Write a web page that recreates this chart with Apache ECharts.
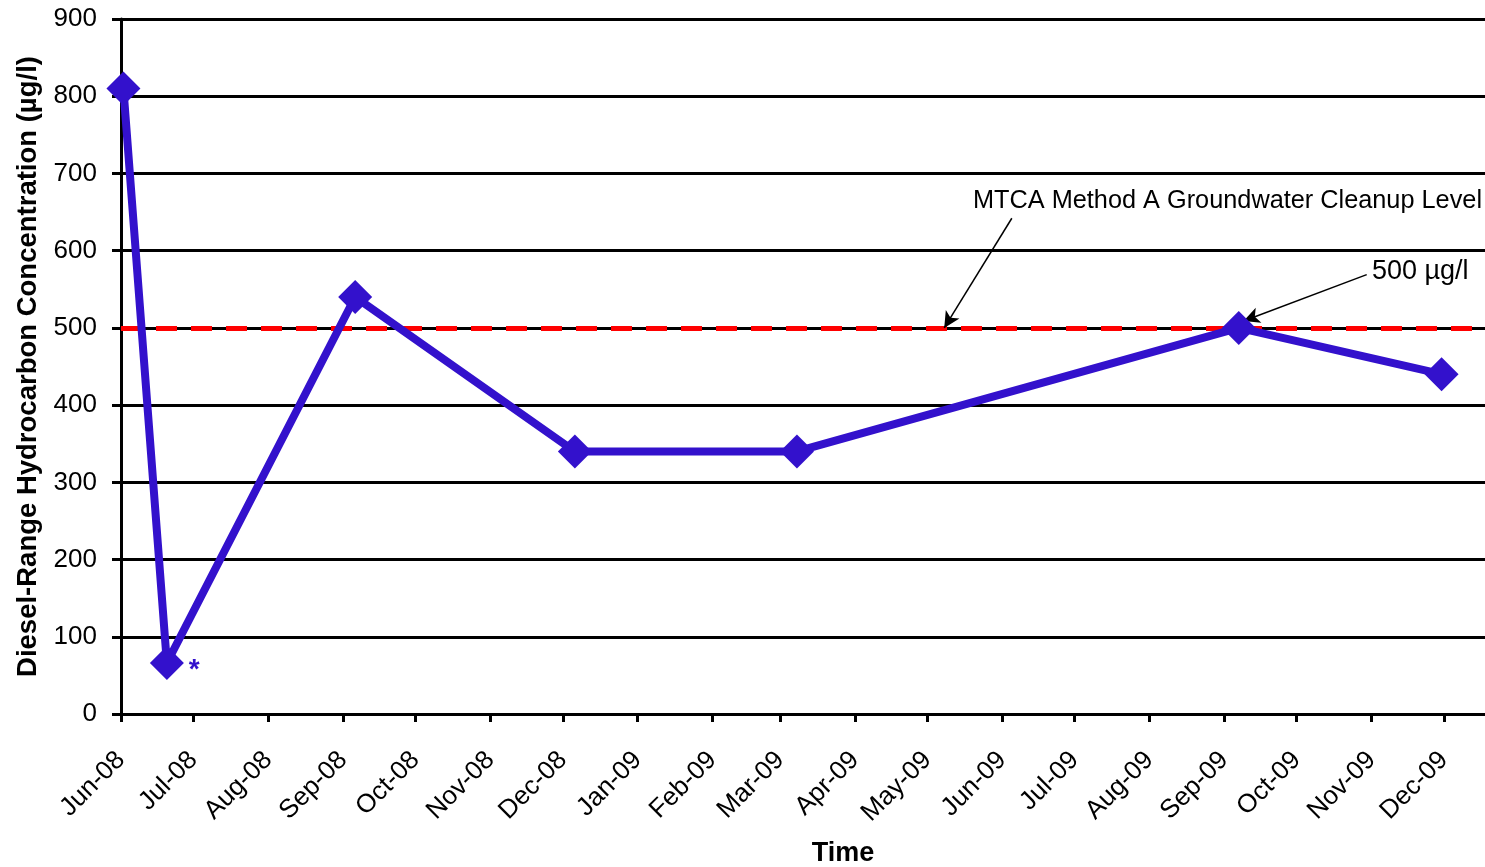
<!DOCTYPE html>
<html>
<head>
<meta charset="utf-8">
<script src="https://cdn.jsdelivr.net/npm/echarts@6/dist/echarts.min.js"></script>
<style>
html,body{margin:0;padding:0;background:#fff;}
#chart{width:1485px;height:867px;}
</style>
</head>
<body>
<div id="chart"></div>
<script>
// Sample dates and diesel-range hydrocarbon concentrations (µg/l)
const sampleDates = ['2008-06-02','2008-06-20','2008-09-06','2008-12-06','2009-03-08','2009-09-07','2009-11-30'];
const concentrations = [810, 66, 540, 340, 340, 500, 440];
const cleanupLevel = 500;
const axisStart = '2008-06-01';
const axisEnd = '2009-12-18';
const yTicks = [0, 900, 100]; // min, max, interval
const monthNames = ['Jan','Feb','Mar','Apr','May','Jun','Jul','Aug','Sep','Oct','Nov','Dec'];
// Annotation arrows: [fromDate, fromValue, toDate, toValue]
const arrowMTCA = ['2009-06-05', 642, '2009-05-08', 500];
const arrow500 = ['2009-10-30', 569, '2009-09-09', 509];

const FONT = '"Liberation Sans", Arial, sans-serif';
const LINE_COLOR = '#3311CC';

const seriesData = sampleDates.map((d, i) => {
  const item = { value: [d, concentrations[i]] };
  if (i === 1) {
    item.label = {
      show: true, formatter: '*', position: 'right', distance: 5,
      color: LINE_COLOR, fontSize: 28, fontWeight: 'bold', fontFamily: FONT,
      offset: [0, 7]
    };
  }
  return item;
});

const chart = echarts.init(document.getElementById('chart'), null, { renderer: 'canvas' });
chart.setOption({
  animation: false,
  backgroundColor: '#fff',
  grid: { left: 121, right: 0, top: 19, bottom: 153, containLabel: false, outerBoundsMode: 'none' },
  xAxis: {
    type: 'time',
    min: axisStart,
    max: axisEnd,
    minInterval: 28 * 86400000,
    maxInterval: 31 * 86400000,
    name: 'Time',
    nameLocation: 'middle',
    nameGap: 126,
    nameTextStyle: { fontFamily: FONT, fontSize: 27, fontWeight: 'bold', color: '#000', padding: [0, 0, 0, 80] },
    axisLine: { show: true, lineStyle: { color: '#000', width: 3 } },
    axisTick: { show: true, length: 8, lineStyle: { color: '#000', width: 3 } },
    splitLine: { show: false },
    minorTick: { show: false },
    axisLabel: {
      rotate: 45,
      margin: 42,
      fontFamily: FONT,
      fontSize: 26,
      color: '#000',
      showMaxLabel: false,
      formatter: function (value) {
        const d = new Date(value);
        const yy = String(d.getFullYear() % 100).padStart(2, '0');
        return monthNames[d.getMonth()] + '-' + yy;
      }
    }
  },
  yAxis: {
    type: 'value',
    min: yTicks[0],
    max: yTicks[1],
    interval: yTicks[2],
    name: 'Diesel-Range Hydrocarbon Concentration (µg/l)',
    nameLocation: 'middle',
    nameGap: 78,
    nameTextStyle: { fontFamily: FONT, fontSize: 27.5, fontWeight: 'bold', color: '#000' },
    axisLine: { show: true, lineStyle: { color: '#000', width: 3 } },
    axisTick: { show: true, inside: false, length: 9, lineStyle: { color: '#000', width: 3 } },
    axisLabel: { margin: 24, fontFamily: FONT, fontSize: 26, color: '#000' },
    splitLine: { show: true, lineStyle: { color: '#000', width: 3 } }
  },
  series: [{
    type: 'line',
    data: seriesData,
    symbol: 'diamond',
    symbolSize: 34,
    lineStyle: { color: LINE_COLOR, width: 8 },
    itemStyle: { color: LINE_COLOR },
    z: 5,
    markLine: {
      silent: true,
      z: 3,
      symbol: ['none', 'none'],
      label: { show: false },
      lineStyle: { color: '#FF0000', width: 5, type: [21, 14] },
      data: [{ yAxis: cleanupLevel }]
    }
  }, {
    type: 'line',
    data: [],
    z: 6,
    markLine: {
      silent: true,
      symbol: ['none', 'arrow'],
      symbolSize: [12, 16],
      label: { show: false },
      lineStyle: { color: '#000', width: 1.5, type: 'solid' },
      data: [
        [{ coord: [arrowMTCA[0], arrowMTCA[1]] }, { coord: [arrowMTCA[2], arrowMTCA[3]] }],
        [{ coord: [arrow500[0], arrow500[1]] }, { coord: [arrow500[2], arrow500[3]] }]
      ]
    }
  }],
  graphic: [
    { type: 'text', left: 973, top: 189, style: { text: 'MTCA Method A Groundwater Cleanup Level', font: '25.3px ' + FONT, fill: '#000' }, z: 10 },
    { type: 'text', left: 1372, top: 258, style: { text: '500 µg/l', font: '27px ' + FONT, fill: '#000' }, z: 10 }
  ]
});
</script>
</body>
</html>
